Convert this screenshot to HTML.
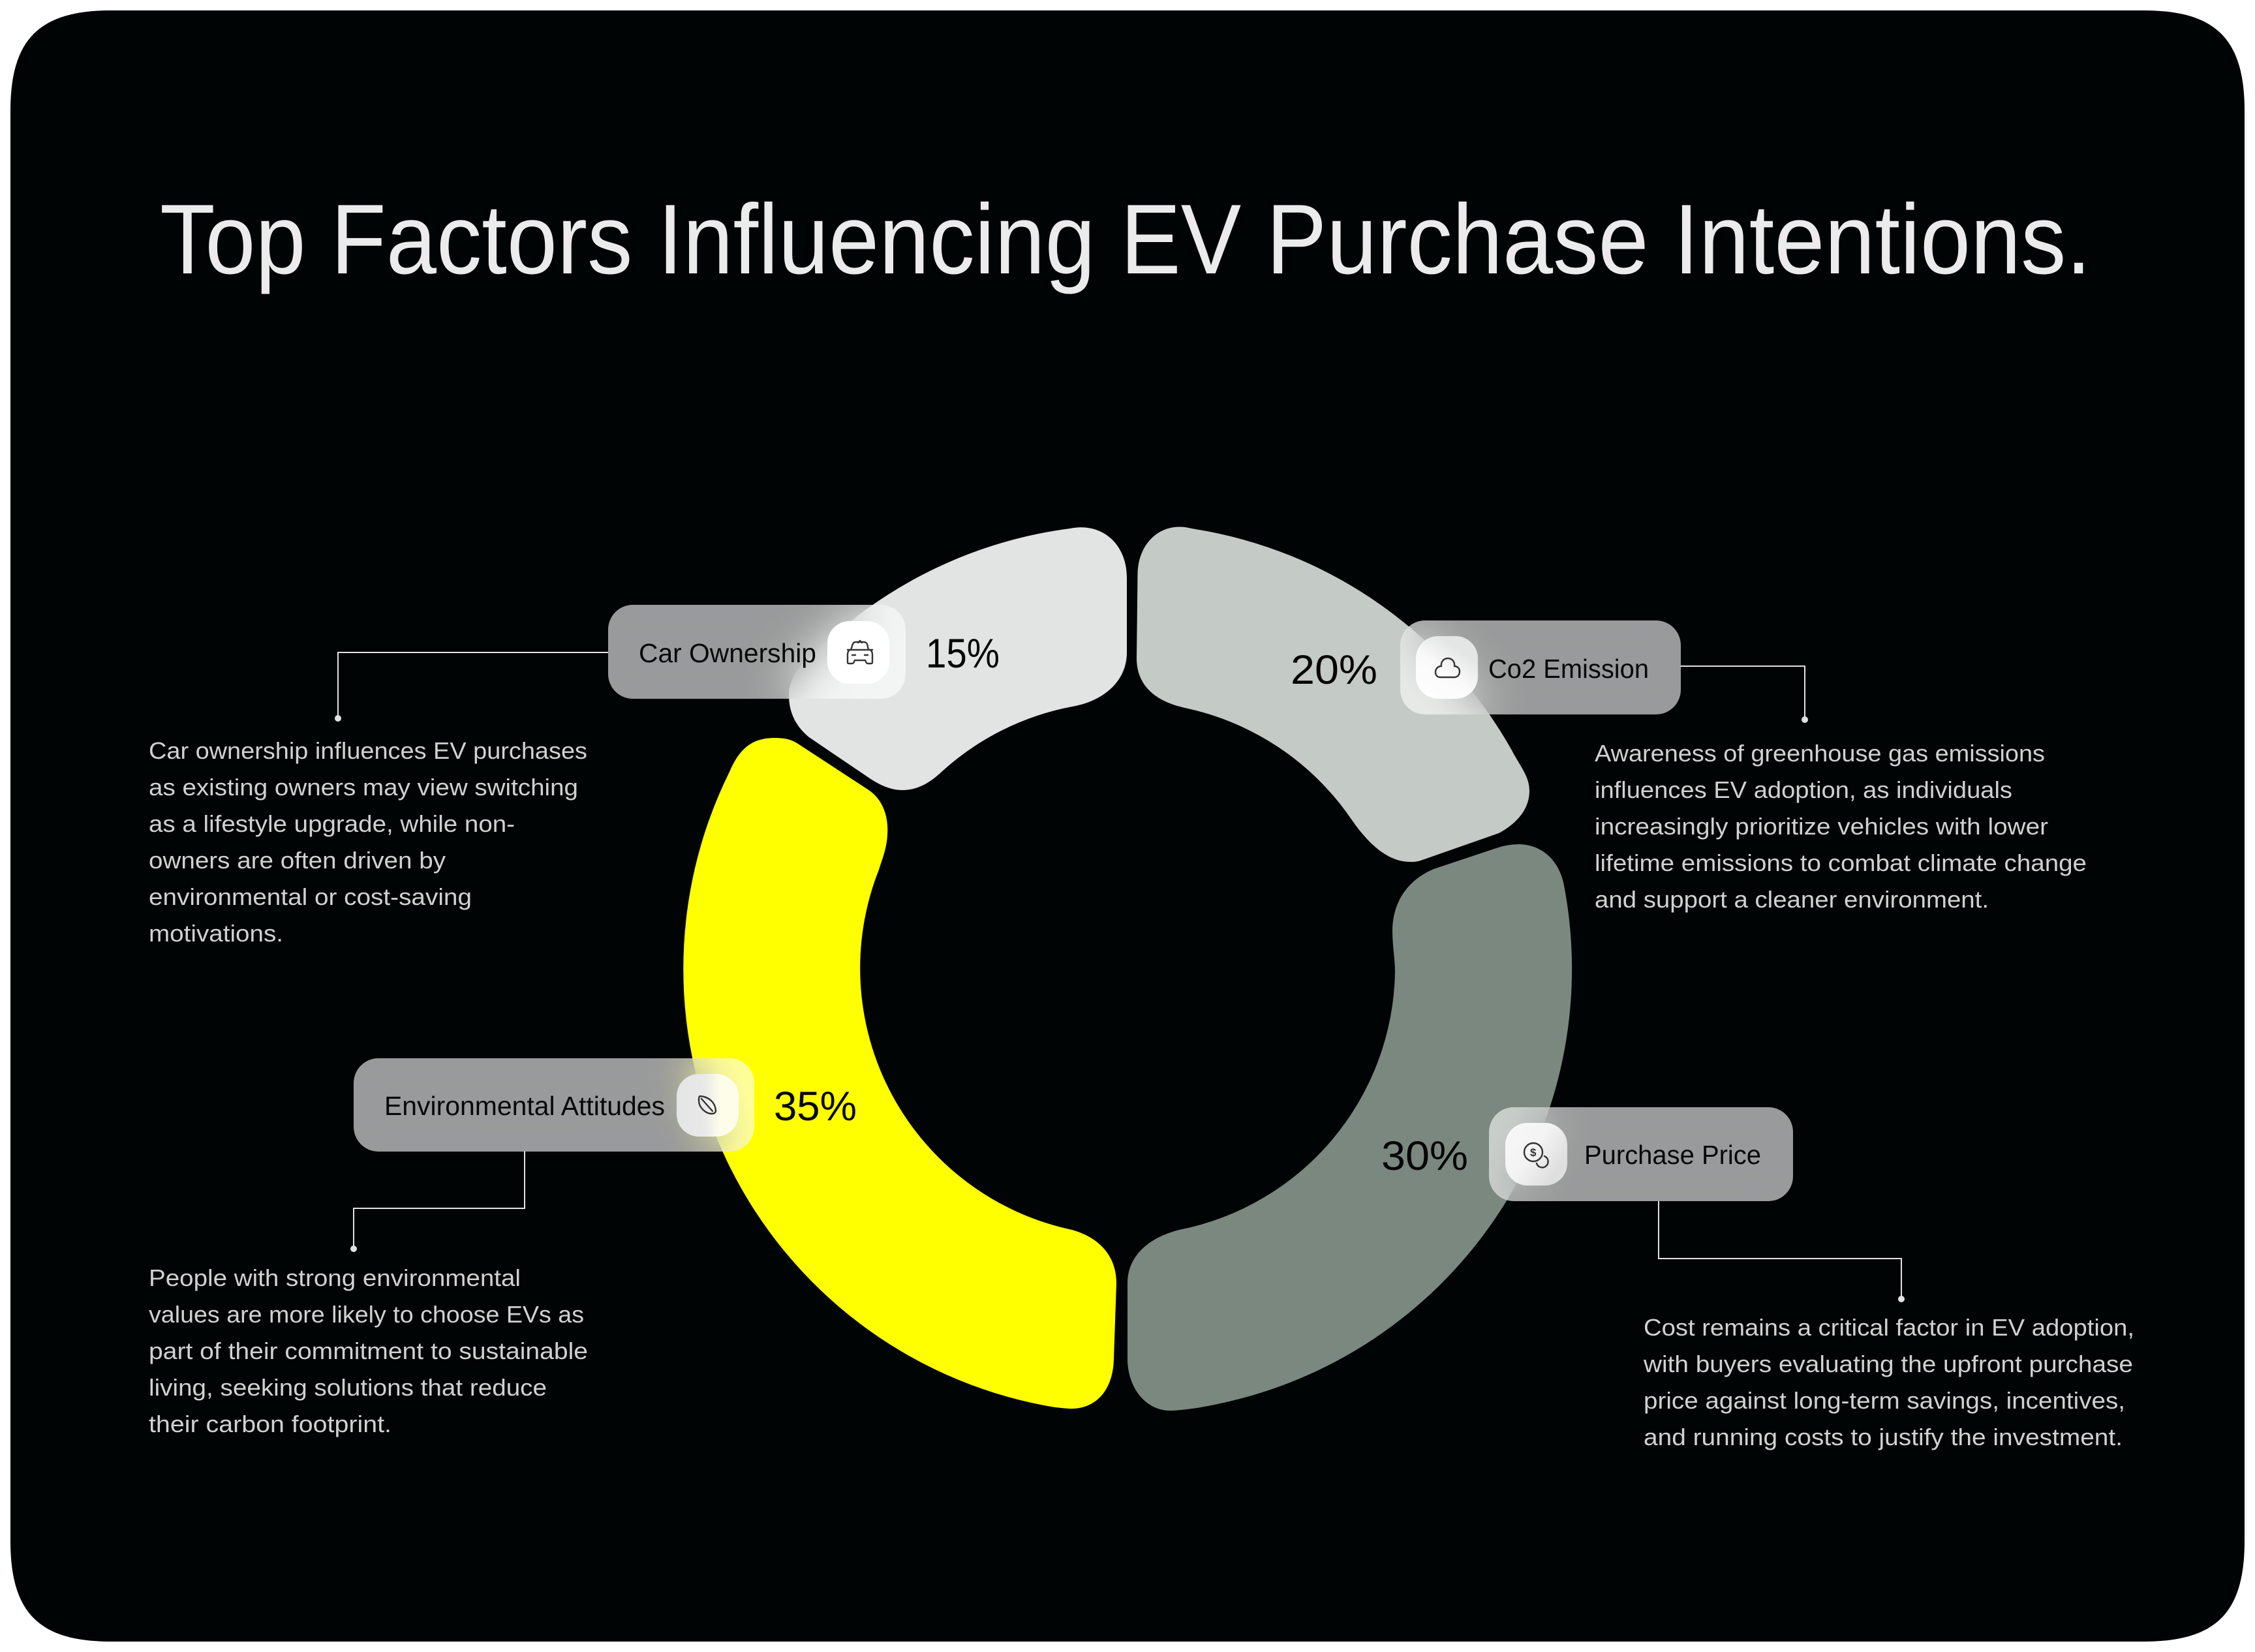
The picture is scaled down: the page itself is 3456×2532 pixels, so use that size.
<!DOCTYPE html>
<html><head><meta charset="utf-8">
<style>
html,body{margin:0;padding:0;background:#fff;width:3456px;height:2532px;overflow:hidden}
svg{position:absolute;left:0;top:0}
.l{position:absolute;background:rgba(255,255,255,.6);-webkit-backdrop-filter:blur(36px);backdrop-filter:blur(36px);border-radius:38px;height:144px}
.t{position:absolute;width:95px;height:96px;border-radius:34px}
text{font-family:"Liberation Sans",sans-serif}
.b text{font-size:36px;fill:#cfd2d0}
.n text{font-size:41px;fill:#080808}
.p text{font-size:63px;fill:#050505}
.i *{fill:none;stroke:#333;stroke-width:2.4;stroke-linecap:round;stroke-linejoin:round}
.i text{fill:#333;stroke:none;font-size:17px;font-weight:bold}
</style></head><body>
<svg width="3456" height="2532" viewBox="0 0 3456 2532">
<path fill="#010405" d="M170 16H3286C3396 16 3440 60 3440 170V2362C3440 2472 3396 2516 3286 2516H170C60 2516 16 2472 16 2362V170C16 60 60 16 170 16Z"/>
<path fill="#E1E4E3" d="M1640 810C1690 800 1727 835 1727 885L1727 1000C1727 1045 1690 1075 1643 1083A411 411 0 0 0 1443 1183C1420 1205 1400 1211 1383 1211C1365 1211 1348 1203 1333 1193L1240 1130C1222 1115 1209 1095 1209 1065C1209 1030 1240 1005 1280 972A681 681 0 0 1 1640 810Z"/>
<path fill="#C4CAC5" d="M1743.500 880C1744 835 1775 803 1816 808C1822 809 1826 810 1832 811A681 681 0 0 1 2317 1150C2330 1175 2344 1190 2344 1212C2344 1240 2325 1262 2297 1277L2180 1318C2172 1321 2167 1321 2161 1321C2125 1321 2095 1290 2072 1257A412 412 0 0 0 1816 1085C1770 1075 1742 1050 1742 1009Z"/>
<path fill="#7A8880" d="M2327 1294C2360 1294 2387 1315 2396 1352A681 681 0 0 1 1900 2144C1860 2154 1830 2160 1797 2162C1755 2164 1728 2125 1728 2083L1728 1967C1728 1925 1760 1897 1807 1885A410 410 0 0 0 2138 1490C2138 1470 2134 1450 2134 1427C2134 1385 2155 1350 2197 1332L2293 1300C2305 1296 2316 1294 2327 1294Z"/>
<path fill="#FFFF00" d="M1187 1131C1205 1131 1214 1134 1223 1140L1330 1210C1355 1226 1362 1255 1360 1280C1359 1300 1352 1317 1347 1333A410 410 0 0 0 1643 1885C1685 1897 1711 1925 1711 1967L1707 2083C1706 2130 1680 2160 1640 2159C1625 2158 1615 2157 1600 2154A681 681 0 0 1 1118 1183C1133 1148 1152 1131 1187 1131Z"/>
<g fill="none" stroke="#dfe4e2" stroke-width="2">
<path d="M932 1000H518V1100"/>
<path d="M2575 1021H2766V1100"/>
<path d="M804 1764V1852H542V1910"/>
<path d="M2542 1841V1929H2914V1987"/>
</g>
<g fill="#dfe4e2">
<circle cx="518" cy="1101" r="5"/><circle cx="2766" cy="1103" r="5"/><circle cx="542" cy="1914" r="5"/><circle cx="2914" cy="1991" r="5"/>
</g>
</svg>

<div class="l" style="left:932px;top:927px;width:456px"></div>
<div class="l" style="left:2146px;top:951px;width:430px"></div>
<div class="l" style="left:542px;top:1622px;width:614px;height:143px"></div>
<div class="l" style="left:2282px;top:1697px;width:466px"></div>
<div class="t" style="left:1268px;top:952px;background:#fff"></div>
<div class="t" style="left:2170px;top:975px;background:linear-gradient(35deg,#fff 0%,#fafafa 45%,#e4e5e5 75%)"></div>
<div class="t" style="left:1037px;top:1646px;background:linear-gradient(90deg,#e4e5e5 0%,#e8e9e8 45%,#fdfdea 70%,#fdfdea 100%)"></div>
<div class="t" style="left:2307px;top:1721px;background:linear-gradient(125deg,#f8f8f8 0%,#f3f3f3 45%,#dfdfdf 80%)"></div>

<svg width="3456" height="2532" viewBox="0 0 3456 2532">
<text x="245" y="419" font-size="152" fill="#ebebeb" textLength="2960" lengthAdjust="spacingAndGlyphs">Top Factors Influencing EV Purchase Intentions.</text>

<g class="n">
<text x="979" y="1015" textLength="272" lengthAdjust="spacingAndGlyphs">Car Ownership</text>
<text x="2281" y="1039" textLength="246" lengthAdjust="spacingAndGlyphs">Co2 Emission</text>
<text x="589" y="1709" textLength="430" lengthAdjust="spacingAndGlyphs">Environmental Attitudes</text>
<text x="2428" y="1784" textLength="271" lengthAdjust="spacingAndGlyphs">Purchase Price</text>
</g>
<g class="p">
<text x="1419" y="1023" textLength="113" lengthAdjust="spacingAndGlyphs">15%</text>
<text x="1978" y="1048" textLength="133" lengthAdjust="spacingAndGlyphs">20%</text>
<text x="1186" y="1717" textLength="127" lengthAdjust="spacingAndGlyphs">35%</text>
<text x="2117" y="1793" textLength="133" lengthAdjust="spacingAndGlyphs">30%</text>
</g>

<g class="b">
<text x="228" y="1163" textLength="672" lengthAdjust="spacingAndGlyphs">Car ownership influences EV purchases</text>
<text x="228" y="1219" textLength="658" lengthAdjust="spacingAndGlyphs">as existing owners may view switching</text>
<text x="228" y="1275" textLength="561" lengthAdjust="spacingAndGlyphs">as a lifestyle upgrade, while non-</text>
<text x="228" y="1331" textLength="455" lengthAdjust="spacingAndGlyphs">owners are often driven by</text>
<text x="228" y="1387" textLength="495" lengthAdjust="spacingAndGlyphs">environmental or cost-saving</text>
<text x="228" y="1443" textLength="206" lengthAdjust="spacingAndGlyphs">motivations.</text>

<text x="2444" y="1167" textLength="690" lengthAdjust="spacingAndGlyphs">Awareness of greenhouse gas emissions</text>
<text x="2444" y="1223" textLength="640" lengthAdjust="spacingAndGlyphs">influences EV adoption, as individuals</text>
<text x="2444" y="1279" textLength="695" lengthAdjust="spacingAndGlyphs">increasingly prioritize vehicles with lower</text>
<text x="2444" y="1335" textLength="754" lengthAdjust="spacingAndGlyphs">lifetime emissions to combat climate change</text>
<text x="2444" y="1391" textLength="604" lengthAdjust="spacingAndGlyphs">and support a cleaner environment.</text>

<text x="228" y="1971" textLength="570" lengthAdjust="spacingAndGlyphs">People with strong environmental</text>
<text x="228" y="2027" textLength="667" lengthAdjust="spacingAndGlyphs">values are more likely to choose EVs as</text>
<text x="228" y="2083" textLength="673" lengthAdjust="spacingAndGlyphs">part of their commitment to sustainable</text>
<text x="228" y="2139" textLength="610" lengthAdjust="spacingAndGlyphs">living, seeking solutions that reduce</text>
<text x="228" y="2195" textLength="372" lengthAdjust="spacingAndGlyphs">their carbon footprint.</text>

<text x="2519" y="2047" textLength="752" lengthAdjust="spacingAndGlyphs">Cost remains a critical factor in EV adoption,</text>
<text x="2519" y="2103" textLength="750" lengthAdjust="spacingAndGlyphs">with buyers evaluating the upfront purchase</text>
<text x="2519" y="2159" textLength="738" lengthAdjust="spacingAndGlyphs">price against long-term savings, incentives,</text>
<text x="2519" y="2215" textLength="734" lengthAdjust="spacingAndGlyphs">and running costs to justify the investment.</text>
</g>

<g class="i">
<!-- car -->
<path d="M1304 996L1307 987Q1308 984 1312 984H1324Q1327 984 1329 987L1331 996"/>
<path d="M1299 996H1337M1302 996Q1299 999 1299 1003V1015Q1299 1017 1301 1017H1306Q1308 1017 1309 1014L1310 1012H1326L1327 1014Q1328 1017 1330 1017H1335Q1337 1017 1337 1015V1003Q1337 999 1334 996"/>
<path d="M1306 1004H1311M1325 1004H1330M1315 985L1318 982L1321 985"/>
<!-- cloud -->
<path d="M2207 1038H2229C2234 1038 2237 1034 2237 1029C2237 1024 2233 1021 2229 1021C2230 1014 2225 1009 2219 1009C2213 1009 2208 1014 2209 1021C2204 1021 2200 1025 2200 1030C2200 1035 2203 1038 2207 1038Z"/>
<!-- leaf -->
<path d="M1073 1680C1087 1681 1096 1690 1097 1702C1097 1705 1095 1707 1091 1707C1081 1707 1071 1697 1071 1687C1071 1683 1071 1681 1073 1680Z"/>
<path d="M1075 1684L1092 1703"/>
<!-- coin -->
<circle cx="2350" cy="1766" r="14"/>
<path d="M2367 1772A9 9 0 1 1 2355 1783"/>
<text x="2345" y="1772">$</text>
</g>
</svg>
</body></html>
